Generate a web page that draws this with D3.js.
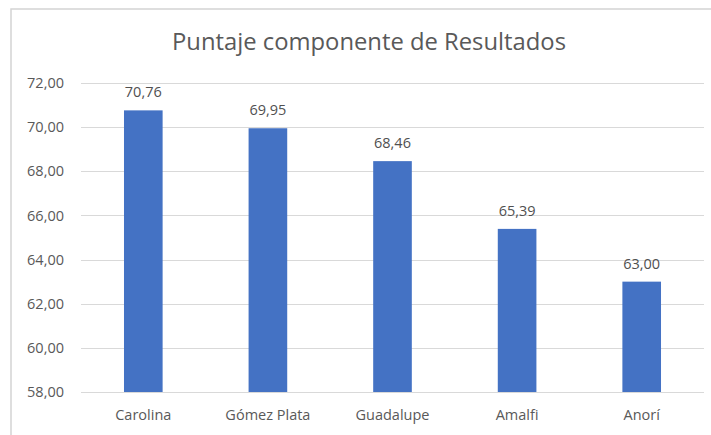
<!DOCTYPE html>
<html>
<head>
<meta charset="utf-8">
<script src="https://cdn.jsdelivr.net/npm/d3@7"></script>
<style>
  html, body { margin: 0; padding: 0; background: #fff; }
  svg { display: block; font-family: "Open Sans", "Noto Sans", sans-serif; }
</style>
</head>
<body>
<svg id="chart" width="711" height="435"></svg>
<script>
// Municipalities and their "Resultados" component scores
const categories = ["Carolina", "Gómez Plata", "Guadalupe", "Amalfi", "Anorí"];
const scores = [70.76, 69.95, 68.46, 65.39, 63.00];
const yTicks = [58, 60, 62, 64, 66, 68, 70, 72];
const title = "Puntaje componente de Resultados";

const svg = d3.select("#chart");
const W = 711, H = 435;
const margin = { top: 83, right: 7, bottom: 43, left: 81 };

const fmt = v => v.toFixed(2).replace(".", ",");

// Chart frame
svg.append("rect")
  .attr("x", 11).attr("y", 9)
  .attr("width", W).attr("height", H)
  .attr("fill", "#fff")
  .attr("stroke", "#d4d4d4")
  .attr("stroke-width", 1.5);

const x = d3.scaleBand()
  .domain(categories)
  .range([margin.left, W - margin.right])
  .paddingInner(0.69)
  .paddingOuter(0.345);

const y = d3.scaleLinear()
  .domain([58, 72])
  .range([H - margin.bottom, margin.top]);

// Horizontal gridlines
svg.append("g")
  .selectAll("line")
  .data(yTicks)
  .join("line")
  .attr("x1", margin.left).attr("x2", W - margin.right)
  .attr("y1", d => Math.round(y(d)) + 0.5).attr("y2", d => Math.round(y(d)) + 0.5)
  .attr("stroke", "#d9d9d9")
  .attr("stroke-width", 1);

// Y axis labels
const yAxis = d3.axisLeft(y).tickValues(yTicks).tickFormat(fmt).tickSize(0).tickPadding(17);
const gy = svg.append("g")
  .attr("transform", `translate(${margin.left},0)`)
  .call(yAxis);
gy.select(".domain").remove();
gy.selectAll("text")
  .attr("fill", "#595959")
  .style("font-size", "14.5px")
  .style("font-family", "'Open Sans', sans-serif");

// X axis labels
const xAxis = d3.axisBottom(x).tickSize(0).tickPadding(18);
const gx = svg.append("g")
  .attr("transform", `translate(0,${H - margin.bottom})`)
  .call(xAxis);
gx.select(".domain").remove();
gx.selectAll("text")
  .attr("fill", "#595959")
  .style("font-size", "14.5px")
  .style("font-family", "'Open Sans', sans-serif");

// Bars
svg.append("g")
  .selectAll("rect")
  .data(categories)
  .join("rect")
  .attr("x", d => x(d))
  .attr("width", x.bandwidth())
  .attr("y", (d, i) => y(scores[i]))
  .attr("height", (d, i) => y(58) - y(scores[i]))
  .attr("fill", "#4472c4");

// Value labels
svg.append("g")
  .selectAll("text")
  .data(categories)
  .join("text")
  .attr("x", d => x(d) + x.bandwidth() / 2)
  .attr("y", (d, i) => y(scores[i]) - 13)
  .attr("text-anchor", "middle")
  .attr("fill", "#505050")
  .style("font-size", "14.5px")
  .text((d, i) => fmt(scores[i]));

// Title
svg.append("text")
  .attr("x", 369)
  .attr("y", 50)
  .attr("text-anchor", "middle")
  .attr("fill", "#595959")
  .style("font-size", "23.8px")
  .text(title);
</script>
</body>
</html>
